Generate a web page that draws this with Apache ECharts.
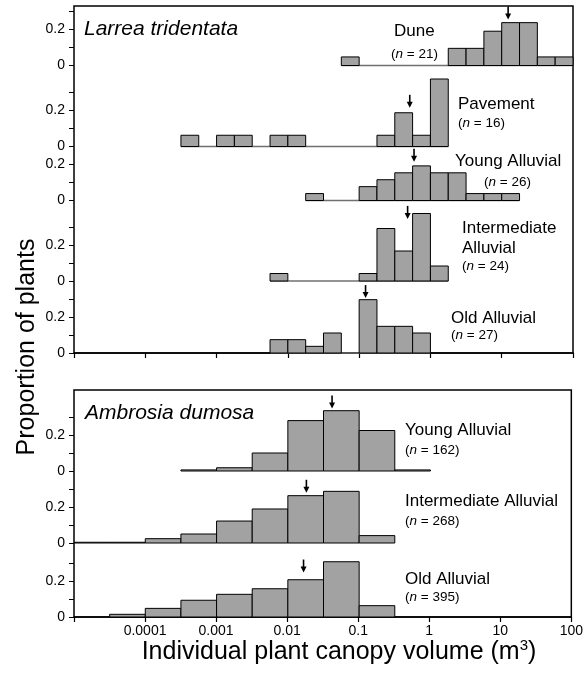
<!DOCTYPE html>
<html><head><meta charset="utf-8">
<script src="https://cdn.jsdelivr.net/npm/echarts@6/dist/echarts.min.js"></script>
<style>html,body{margin:0;padding:0;background:#fff}#c{width:586px;height:676px}</style>
</head><body><div id="c"></div>
<script>
// ---------- DATA ----------
// x tick labels (canopy volume, m3, log scale)
const xTickLabels = ['0.00001','0.0001','0.001','0.01','0.1','1','10','100'];
const yTickValues = [0, 0.1, 0.2, 0.3];
const yLabelValues = [0, 0.2];

// Larrea tridentata: quarter-decade bins (log10 of m3), plant counts
const larreaBinWidth = 0.25;
const duneStart = -1.25;
const duneCounts = [1,0,0,0,0,0,2,2,4,5,5,1,1];
const duneN = 21, duneMedianLog = 1.09, duneArrowTip = 0.255;

const pavementStart = -3.5;
const pavementCounts = [1,0,1,1,0,1,1,0,0,0,0,1,3,1,6];
const pavementN = 16, pavementMedianLog = -0.29, pavementArrowTip = 0.215;

const larreaYoungStart = -1.75;
const larreaYoungCounts = [1,0,0,2,3,4,5,4,4,1,1,1];
const larreaYoungN = 26, larreaYoungMedianLog = -0.23, larreaYoungArrowTip = 0.215;

const larreaInterStart = -2.25;
const larreaInterCounts = [1,0,0,0,0,1,7,4,9,2];
const larreaInterN = 24, larreaInterMedianLog = -0.32, larreaInterArrowTip = 0.345;

const larreaOldStart = -2.25;
const larreaOldCounts = [2,2,1,3,0,8,4,4,3];
const larreaOldN = 27, larreaOldMedianLog = -0.91, larreaOldArrowTip = 0.305;

// Ambrosia dumosa: half-decade bins, proportions
const ambrosiaBinWidth = 0.5;
const ambYoungStart = -3.5;
const ambYoungProps = [0.006,0.018,0.10,0.28,0.335,0.225,0.006];
const ambYoungN = 162, ambYoungMedianLog = -1.38, ambYoungArrowTip = 0.347;

const ambInterStart = -5.0;
const ambInterProps = [0.004,0.004,0.024,0.05,0.122,0.189,0.263,0.287,0.041];
const ambInterN = 268, ambInterMedianLog = -1.74, ambInterArrowTip = 0.279;

const ambOldStart = -4.5;
const ambOldProps = [0.015,0.048,0.093,0.126,0.157,0.207,0.307,0.063];
const ambOldN = 395, ambOldMedianLog = -1.78, ambOldArrowTip = 0.247;

// ---------- LAYOUT ----------
const FONT = '"Liberation Sans", Arial, Helvetica, sans-serif';
const L = 74, R = 13;
const PX_PER_UNIT = 180;
const YMAX = 0.3;
// zero-line pixel rows of each histogram (layout)
const zeroRows = [65.5, 146.5, 200.5, 281, 353, 471, 543, 617];
const BAR_FILL = '#a2a2a2';

const hists = [
  {start: duneStart, w: larreaBinWidth, props: duneCounts.map(c=>c/duneN), med: duneMedianLog, tip: duneArrowTip, base: true},
  {start: pavementStart, w: larreaBinWidth, props: pavementCounts.map(c=>c/pavementN), med: pavementMedianLog, tip: pavementArrowTip, base: true},
  {start: larreaYoungStart, w: larreaBinWidth, props: larreaYoungCounts.map(c=>c/larreaYoungN), med: larreaYoungMedianLog, tip: larreaYoungArrowTip, base: true},
  {start: larreaInterStart, w: larreaBinWidth, props: larreaInterCounts.map(c=>c/larreaInterN), med: larreaInterMedianLog, tip: larreaInterArrowTip, base: true},
  {start: larreaOldStart, w: larreaBinWidth, props: larreaOldCounts.map(c=>c/larreaOldN), med: larreaOldMedianLog, tip: larreaOldArrowTip, base: true},
  {start: ambYoungStart, w: ambrosiaBinWidth, props: ambYoungProps, med: ambYoungMedianLog, tip: ambYoungArrowTip, base: false},
  {start: ambInterStart, w: ambrosiaBinWidth, props: ambInterProps, med: ambInterMedianLog, tip: ambInterArrowTip, base: false},
  {start: ambOldStart, w: ambrosiaBinWidth, props: ambOldProps, med: ambOldMedianLog, tip: ambOldArrowTip, base: false}
];

const xVals = xTickLabels.map(parseFloat);
const grids = [], xAxes = [], yAxes = [], series = [];

// frames (0: Larrea panel, 1: Ambrosia panel)
const frames = [{top: 6, bottom: 353, labels: false}, {top: 390, bottom: 617, labels: true}];
frames.forEach((f, i) => {
  grids.push({left: L, right: R, top: f.top, height: f.bottom - f.top, show: true, borderColor: '#000', borderWidth: 1.5, backgroundColor: 'transparent'});
  xAxes.push({
    type: 'log', logBase: 10, gridIndex: i, min: xVals[0], max: xVals[xVals.length-1],
    axisLine: {show: true, lineStyle: {color: '#000', width: 1.5}},
    axisTick: {show: true, length: 5, lineStyle: {color: '#000', width: 1.2}, customValues: xVals},
    axisLabel: {show: f.labels, color: '#000', fontSize: 14, fontFamily: FONT, margin: 7,
      customValues: xVals.slice(1), formatter: v => {
        const k = xVals.findIndex(t => Math.abs(Math.log10(t) - Math.log10(v)) < 1e-6);
        return k >= 0 ? xTickLabels[k] : '';
      }},
    splitLine: {show: false}
  });
  yAxes.push({type: 'value', gridIndex: i, min: 0, max: 1, show: false});
});

hists.forEach((h, k) => {
  const gi = k + 2;
  const zero = zeroRows[k];
  grids.push({left: L, right: R, top: zero - YMAX * PX_PER_UNIT, height: YMAX * PX_PER_UNIT, show: false});
  xAxes.push({type: 'log', logBase: 10, gridIndex: gi, min: xVals[0], max: xVals[xVals.length-1], show: false});
  yAxes.push({
    type: 'value', gridIndex: gi, min: 0, max: YMAX, interval: 0.1,
    axisLine: {show: false},
    axisTick: {show: true, length: 5, lineStyle: {color: '#000', width: 1}, customValues: yTickValues},
    axisLabel: {color: '#000', fontSize: 14, fontFamily: FONT, margin: 9, customValues: yLabelValues,
      formatter: v => (Math.abs(v) < 1e-9 ? '0' : (Math.abs(v - 0.2) < 1e-9 ? '0.2' : ''))},
    splitLine: {show: false}
  });
  const bins = h.props.map((p, i) => [Math.pow(10, h.start + i * h.w), Math.pow(10, h.start + (i + 1) * h.w), p]);
  if (h.base) {
    series.push({
      type: 'custom', xAxisIndex: gi, yAxisIndex: gi, clip: false, z: 1,
      data: [[bins[0][0], bins[bins.length-1][1]]],
      renderItem: (params, api) => {
        const a = api.coord([api.value(0), 0]), b = api.coord([api.value(1), 0]);
        return {type: 'line', shape: {x1: a[0], y1: a[1], x2: b[0], y2: b[1]}, style: {stroke: '#707070', lineWidth: 1.5}};
      }
    });
  }
  series.push({
    type: 'custom', xAxisIndex: gi, yAxisIndex: gi, clip: false, z: 2,
    data: bins.filter(b => b[2] > 0),
    renderItem: (params, api) => {
      const p0 = api.coord([api.value(0), 0]);
      const p1 = api.coord([api.value(1), api.value(2)]);
      return {type: 'rect', shape: {x: p0[0], y: p1[1], width: p1[0] - p0[0], height: p0[1] - p1[1]},
        style: {fill: BAR_FILL, stroke: '#000', lineWidth: 1}};
    }
  });
  series.push({
    type: 'custom', xAxisIndex: gi, yAxisIndex: gi, clip: false, z: 3,
    data: [[Math.pow(10, h.med), h.tip]],
    renderItem: (params, api) => {
      const p = api.coord([api.value(0), api.value(1)]);
      const x = p[0], y = p[1];
      return {type: 'group', children: [
        {type: 'line', shape: {x1: x, y1: y - 13, x2: x, y2: y - 5}, style: {stroke: '#000', lineWidth: 1.6}},
        {type: 'polygon', shape: {points: [[x - 3, y - 6], [x + 3, y - 6], [x, y]]}, style: {fill: '#000'}}
      ]};
    }
  });
});

function txt(x, y, s, size, opts) {
  return {type: 'text', x: x, y: y, silent: true, z: 10,
    style: Object.assign({text: s, fontSize: size, fontFamily: FONT, fill: '#000', textAlign: 'left', textVerticalAlign: 'middle',
      rich: {i: {fontStyle: 'italic', fontSize: size, fontFamily: FONT}, sup: {fontSize: size * 0.6, verticalAlign: 'top', fontFamily: FONT, padding: [0,0,12,0]}}}, opts || {})};
}

const graphics = [
  txt(84, 29, 'Larrea tridentata', 21, {fontStyle: 'italic'}),
  txt(394, 31, 'Dune', 17),
  txt(391, 54, '({i|n} = 21)', 13.5),
  txt(458, 104, 'Pavement', 17),
  txt(458, 123, '({i|n} = 16)', 13.5),
  txt(455, 161.5, 'Young Alluvial', 17),
  txt(484, 182, '({i|n} = 26)', 13.5),
  txt(462, 228, 'Intermediate', 17),
  txt(462, 248, 'Alluvial', 17),
  txt(462, 266, '({i|n} = 24)', 13.5),
  txt(451, 318, 'Old Alluvial', 17),
  txt(451, 335.5, '({i|n} = 27)', 13.5),
  txt(85, 413, 'Ambrosia dumosa', 21, {fontStyle: 'italic'}),
  txt(405, 430, 'Young Alluvial', 17),
  txt(405, 450, '({i|n} = 162)', 13.5),
  txt(405, 501.5, 'Intermediate Alluvial', 17),
  txt(405, 521, '({i|n} = 268)', 13.5),
  txt(405, 579, 'Old Alluvial', 17),
  txt(405, 597.5, '({i|n} = 395)', 13.5),
  txt(339, 652, 'Individual plant canopy volume (m{sup|3})', 25, {textAlign: 'center'}),
  {type: 'text', x: 27, y: 347, rotation: Math.PI / 2, silent: true,
    style: {text: 'Proportion of plants', fontSize: 25, fontFamily: FONT, fill: '#000', textAlign: 'center', textVerticalAlign: 'middle'}}
];

const chart = echarts.init(document.getElementById('c'), null, {renderer: 'canvas'});
chart.setOption({
  animation: false,
  backgroundColor: '#fff',
  grid: grids, xAxis: xAxes, yAxis: yAxes, series: series, graphic: graphics
});
</script></body></html>
